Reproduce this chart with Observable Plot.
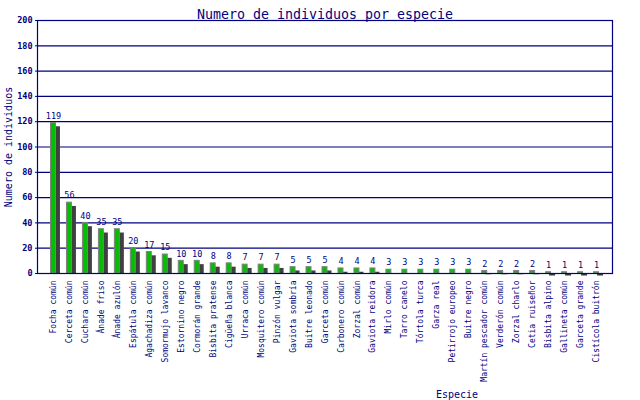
<!DOCTYPE html>
<html>
<head>
<meta charset="utf-8">
<script src="https://cdn.jsdelivr.net/npm/d3@7"></script>
<script src="https://cdn.jsdelivr.net/npm/@observablehq/plot@0.6"></script>
<style>
  body { margin: 0; background: #fff; }
</style>
</head>
<body>
<div id="chart"></div>
<script>
const species = ["Focha común","Cerceta común","Cuchara común","Ánade friso","Ánade azulón","Espátula común","Agachadiza común","Somormujo lavanco","Estornino negro","Cormorán grande","Bisbita pratense","Cigüeña blanca","Urraca común","Mosquitero común","Pinzón vulgar","Gaviota sombría","Buitre leonado","Garceta común","Carbonero común","Zorzal común","Gaviota reidora","Mirlo común","Tarro canelo","Tórtola turca","Garza real","Petirrojo europeo","Buitre negro","Martín pescador común","Verderón común","Zorzal charlo","Cetia ruiseñor","Bisbita alpino","Gallineta común","Garceta grande","Cistícola buitrón"];
const counts = [119,56,40,35,35,20,17,15,10,10,8,8,7,7,7,5,5,5,4,4,4,3,3,3,3,3,3,2,2,2,2,1,1,1,1];
const yTicks = [0,20,40,60,80,100,120,140,160,180,200];
const titleText = "Numero de individuos por especie";
const yLabel = "Numero de individuos";
const xLabel = "Especie";

const data = species.map((s, i) => ({species: s, value: counts[i]}));
const SHADOW = 3;
const navy = "#000080";
const mono = "DejaVu Sans Mono";

const chart = Plot.plot({
  width: 640,
  height: 400,
  marginLeft: 37,
  marginRight: 28,
  marginTop: 20,
  marginBottom: 127,
  style: {fontFamily: mono, background: "#fff", color: navy},
  x: {domain: species, paddingInner: 0, paddingOuter: 0.5},
  y: {domain: [0, 200]},
  marks: [
    Plot.gridY(yTicks, {stroke: navy, strokeOpacity: 1, strokeWidth: 1.2}),
    Plot.barY(data, {x: "species", y1: 0, y2: d => d.value - SHADOW, fill: "#404040", insetLeft: 9, insetRight: 1}),
    Plot.barY(data, {x: "species", y: "value", fill: "#00c000", stroke: "#808080", strokeWidth: 1, insetLeft: 5.5, insetRight: 5.5}),
    Plot.text(data, {x: "species", y: "value", text: d => String(d.value), dy: -7, fill: navy, fontSize: 8.5, fontFamily: mono}),
    Plot.axisY({ticks: yTicks, tickSize: 2, tickPadding: 3, stroke: navy, fill: navy, fontSize: 8.5, fontWeight: "bold", fontFamily: mono, label: null}),
    Plot.axisX({tickRotate: -90, tickSize: 0, tickPadding: 7, fill: navy, fontSize: 8, fontFamily: mono, label: null}),
    Plot.frame({stroke: navy, strokeWidth: 1.2}),
    Plot.text([titleText], {frameAnchor: "top", dy: -11, fill: navy, fontSize: 13.3, fontFamily: mono}),
    Plot.text([yLabel], {frameAnchor: "left", textAnchor: "middle", rotate: -90, dx: -29, fill: navy, fontSize: 10, fontFamily: mono}),
    Plot.text([xLabel], {frameAnchor: "bottom", dx: 132, dy: 124, fill: navy, fontSize: 10, fontFamily: mono})
  ]
});
document.getElementById("chart").appendChild(chart);
</script>
</body>
</html>
